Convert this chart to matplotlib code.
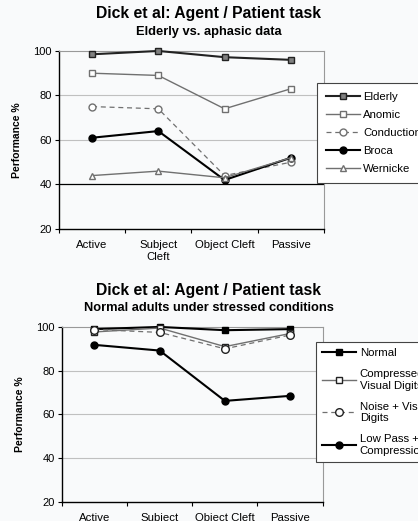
import numpy as np
import matplotlib
matplotlib.use("Agg")
import matplotlib.pyplot as plt

plt.rcParams['font.family'] = ['Liberation Sans', 'DejaVu Sans']

# data
conditions = ["Active", "Subject\nCleft", "Object Cleft", "Passive"]

elderly = [98.5, 100, 97.2, 96]
anomic = [90, 89, 74, 83]
conduction = [75, 74, 44, 50]
broca = [61, 64, 42, 52]
wernicke = [44, 46, 43, 52]

normal = [99, 100, 98.5, 99]
compressed = [97.7, 99.5, 91, 97]
noise = [98.8, 97.5, 90, 96.3]
lowpass = [91.8, 89.2, 66.2, 68.5]

bg = '#f9fafb'
fig = plt.figure(figsize=(4.18, 5.21), dpi=100, facecolor=bg)

ax1 = fig.add_axes([0.141, 0.5605, 0.634, 0.3417])
ax2 = fig.add_axes([0.148, 0.0365, 0.624, 0.336])

x = np.arange(len(conditions))
dark = '#222222'
grey = '#707070'

top_series = [
    (elderly, "Elderly", dict(color=dark, lw=1.5, marker='s', ms=5, mfc='#808080', mec=dark)),
    (anomic, "Anomic", dict(color=grey, lw=1.0, marker='s', ms=5, mfc='white', mec=grey)),
    (conduction, "Conduction", dict(color=grey, lw=0.9, ls=(0, (4, 3)), marker='o', ms=5, mfc='white', mec=grey)),
    (broca, "Broca", dict(color='black', lw=1.5, marker='o', ms=5, mfc='black', mec='black')),
    (wernicke, "Wernicke", dict(color=grey, lw=1.0, marker='^', ms=5, mfc='white', mec=grey)),
]

bottom_series = [
    (normal, "Normal", dict(color='black', lw=1.5, marker='s', ms=5, mfc='black', mec='black')),
    (compressed, "Compressed\nVisual Digits", dict(color=grey, lw=1.0, marker='s', ms=5, mfc='white', mec=dark)),
    (noise, "Noise + Visual\nDigits", dict(color=grey, lw=0.9, ls=(0, (4, 3)), marker='o', ms=5.5, mfc='white', mec=dark)),
    (lowpass, "Low Pass +\nCompression", dict(color='black', lw=1.5, marker='o', ms=5, mfc='black', mec='black')),
]


def style_axes(ax, black40):
    ax.set_facecolor(bg)
    ax.set_xlim(-0.5, 3.5)
    ax.set_ylim(20, 100)
    ax.set_yticks([20, 40, 60, 80, 100])
    ax.tick_params(axis='y', labelsize=8, length=3, width=0.8, pad=2)
    ax.set_xticks(x)
    ax.set_xticklabels(conditions, fontsize=8.2)
    ax.tick_params(axis='x', length=0, pad=8)
    ax.set_xticks(np.arange(-0.5, 4, 1), minor=True)
    ax.tick_params(axis='x', which='minor', length=3, width=0.8)
    for y in [60, 80]:
        ax.axhline(y, color='#c0c0c0', lw=0.8, zorder=0)
    ax.axhline(40, color='black' if black40 else '#c0c0c0', lw=0.9 if black40 else 0.8, zorder=0)
    for s in ['top', 'right']:
        ax.spines[s].set_color('#999999')
        ax.spines[s].set_linewidth(0.8)
    for s in ['left', 'bottom']:
        ax.spines[s].set_color('black')
        ax.spines[s].set_linewidth(1.0)
    ax.set_ylabel("Performance %", fontsize=7.5, fontweight='bold', labelpad=8)


for vals, label, kw in top_series:
    ax1.plot(x, vals, label=label, clip_on=False, zorder=3, **kw)
style_axes(ax1, True)

for vals, label, kw in bottom_series:
    ax2.plot(x, vals, label=label, clip_on=False, zorder=3, **kw)
style_axes(ax2, False)

fig.text(0.5, 0.975, "Dick et al: Agent / Patient task", ha='center', va='center',
         fontsize=11.3, fontweight='bold')
fig.text(0.5, 0.9386, "Elderly vs. aphasic data", ha='center', va='center',
         fontsize=9.3, fontweight='bold')
fig.text(0.5, 1 - 290 / 521, "Dick et al: Agent / Patient task", ha='center', va='center',
         fontsize=11.3, fontweight='bold')
fig.text(0.5, 1 - 308 / 521, "Normal adults under stressed conditions", ha='center', va='center',
         fontsize=9.3, fontweight='bold')

leg_kw = dict(fontsize=8.2, frameon=True, fancybox=False, edgecolor='#444444',
              handlelength=3.0, handletextpad=0.3, framealpha=1, borderaxespad=0)
l1 = ax1.legend(loc='upper left', bbox_to_anchor=(317 / 418, 1 - 83 / 521),
                bbox_transform=fig.transFigure, labelspacing=0.72, borderpad=0.75, **leg_kw)
l2 = ax2.legend(loc='upper left', bbox_to_anchor=(316 / 418, 1 - 342 / 521),
                bbox_transform=fig.transFigure, labelspacing=0.95, borderpad=0.55, **leg_kw)
for l in (l1, l2):
    l.get_frame().set_linewidth(0.8)
    l.get_frame().set_facecolor('white')

fig.savefig("out.png", dpi=100, facecolor=bg)
